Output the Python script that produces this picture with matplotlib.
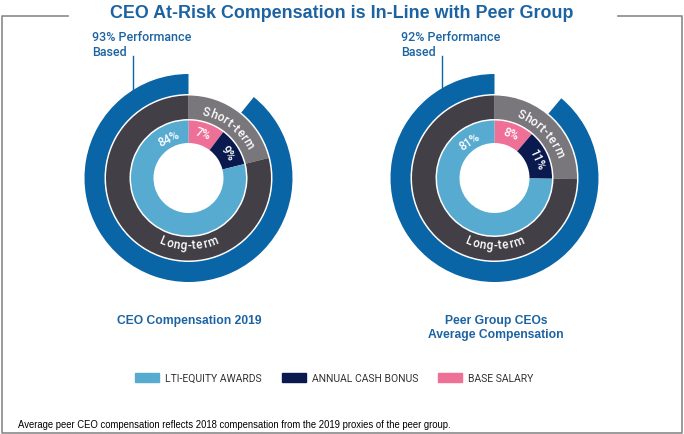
import math
import matplotlib.pyplot as plt
from matplotlib.patches import Patch
from matplotlib.font_manager import FontProperties
from matplotlib.textpath import TextToPath

W, H = 684, 435

# --- data ---
parts = ['LTI-EQUITY AWARDS', 'ANNUAL CASH BONUS', 'BASE SALARY']
ceo_pct = ['84%', '9%', '7%']            # printed labels
peer_pct = ['81%', '11%', '8%']
# share of the ring as drawn in the graphic (%): base salary, bonus, LTI
ceo_drawn = [10.3, 10.8, 78.9]
peer_drawn = [11.2, 14.0, 74.8]
ceo_perf_drawn = 89.2     # outer "performance based" arc
peer_perf_drawn = 88.9
perf_labels = ['93% Performance\nBased', '92% Performance\nBased']
titles = ['CEO Compensation 2019', 'Peer Group CEOs\nAverage Compensation']

c_lti = '#58abd0'
c_bonus = '#0b1a4e'
c_base = '#ef7097'
c_dark = '#423f46'
c_short = '#79777b'
c_blue = '#0a65a6'
c_text = '#1c63a2'

fig = plt.figure(figsize=(W / 100, H / 100), dpi=100)
ax = fig.add_axes([0, 0, 1, 1])

def Y(y):
    return H - y

ttp = TextToPath()

def arc_text(s, cx, cy, r, mid, outward, size, spacing=0.6):
    # writes text letter by letter along a circle
    prop = FontProperties(family='Roboto', size=size, weight='medium')
    ws = [ttp.get_text_width_height_descent(ch, prop, ismath=False)[0] * 100 / 72 + spacing for ch in s]
    total = sum(ws)
    deg = 180 / math.pi / r
    off = 0
    for ch, w in zip(s, ws):
        d = (off + w / 2 - total / 2) * deg
        if outward:
            a = mid - d
            rot = a - 90
        else:
            a = mid + d
            rot = a + 90
        x = cx + r * math.cos(math.radians(a))
        y = cy + r * math.sin(math.radians(a))
        ax.text(x, y, ch, fontproperties=prop, color='white', rotation=rot,
                ha='center', va='center', rotation_mode='anchor')
        off += w

def label_at(txt, cx, cy, r, a, size=8.5):
    ax.text(cx + r * math.cos(math.radians(a)), cy + r * math.sin(math.radians(a)), txt,
            family='Roboto', weight='medium', size=size, color='white', rotation=a - 90,
            ha='center', va='center', rotation_mode='anchor')

centers = [(188.5, Y(179)), (494.5, Y(179))]
drawn = [ceo_drawn, peer_drawn]
perf = [ceo_perf_drawn, peer_perf_drawn]
pcts = [ceo_pct, peer_pct]
lti_label_ang = [116, 124]

for k in range(2):
    cx, cy = centers[k]
    base, bonus, lti = drawn[k]
    short = base + bonus
    # outer performance arc
    ax.pie([100 - perf[k], perf[k]], radius=104, center=(cx, cy), startangle=90,
           counterclock=False, colors=['none', c_blue],
           wedgeprops=dict(width=20, linewidth=0))
    # short / long-term ring
    ax.pie([short, 100 - short], radius=82.5, center=(cx, cy), startangle=90,
           counterclock=False, colors=[c_short, c_dark],
           wedgeprops=dict(width=23.5, linewidth=0))
    # pay mix ring
    ax.pie([base, bonus, lti], radius=57.5, center=(cx, cy), startangle=90,
           counterclock=False, colors=[c_base, c_bonus, c_lti],
           wedgeprops=dict(width=22.5, linewidth=0))
    # labels in the rings
    a0 = 90 - base * 3.6 / 2
    a1 = 90 - (base + bonus / 2) * 3.6
    label_at(pcts[k][2], cx, cy, 47, a0)
    label_at(pcts[k][1], cx, cy, 47, a1)
    label_at(pcts[k][0], cx, cy, 45, lti_label_ang[k])
    arc_text('Short-term', cx, cy, 69, 90 - short * 3.6 / 2, True, 8.5)
    arc_text('Long-term', cx, cy, 67, 270, False, 8.5)

# performance callouts
ax.text(92, Y(45), perf_labels[0], family='Roboto', weight='medium', size=9, color=c_text,
        ha='left', va='center', linespacing=1.25)
ax.plot([132.7, 132.7], [Y(57), Y(92)], color=c_blue, lw=1)
ax.text(401.5, Y(45), perf_labels[1], family='Roboto', weight='medium', size=9, color=c_text,
        ha='left', va='center', linespacing=1.25)
ax.plot([442.3, 442.3], [Y(57), Y(90)], color=c_blue, lw=1)

# chart titles
ax.text(189.5, Y(321), titles[0], family='Liberation Sans', weight='bold', size=8.7,
        color=c_text, ha='center', va='center')
ax.text(495.8, Y(328), titles[1], family='Liberation Sans', weight='bold', size=8.7,
        color=c_text, ha='center', va='center', linespacing=1.15)

# main title and frame
ax.text(342, Y(13), 'CEO At-Risk Compensation is In-Line with Peer Group',
        family='Liberation Sans', weight='bold', size=12.9, color=c_text,
        ha='center', va='center')
fc = '#8a8a8a'
ax.plot([68, 2, 2, 682, 682, 618], [Y(16.5), Y(16.5), Y(434), Y(434), Y(16.5), Y(16.5)],
        color=fc, lw=1.2)

# footnote
ax.text(17.5, Y(425.5), 'Average peer CEO compensation reflects 2018 compensation from the 2019 proxies of the peer group.',
        family='Liberation Sans', size=6.85, color='black', ha='left', va='center')

# legend
handles = [Patch(color=c) for c in [c_lti, c_bonus, c_base]]
ax.legend(handles, parts, loc='center', bbox_to_anchor=(334.5 / W, 1 - 379 / H),
          ncol=3, frameon=False, prop=FontProperties(family='Roboto', size=7.5),
          labelcolor='#333333', handlelength=2.3, handleheight=1.0,
          handletextpad=0.6, columnspacing=1.9)

ax.set_xlim(0, W)
ax.set_ylim(0, H)
ax.set_aspect('equal')
ax.axis('off')
fig.savefig('out.png', dpi=100)
